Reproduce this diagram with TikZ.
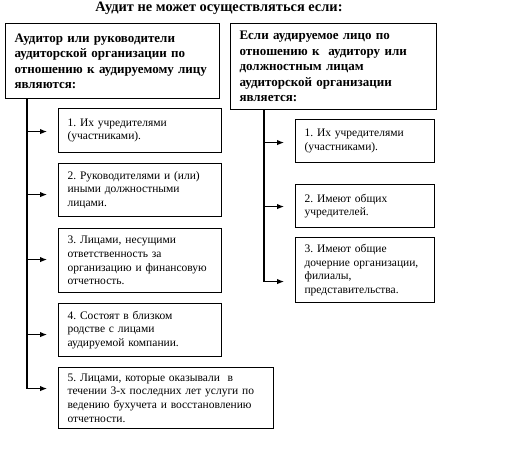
\documentclass[tikz,border=0pt]{standalone}
\usepackage{fontspec}
\setmainfont{Liberation Serif}
\usetikzlibrary{arrows.meta}
\frenchspacing
\tikzset{
  head/.style={draw,anchor=north west,align=left,inner xsep=9pt,
    font=\fontsize{13}{15.5}\selectfont\bfseries},
  item/.style={draw,anchor=north west,align=left,inner xsep=9pt,
    font=\fontsize{11.5}{13.6}\selectfont},
  arrow/.style={-{Latex[length=7pt,width=5.5pt]},shorten >=11pt},
}
\begin{document}
\begin{tikzpicture}[x=1pt,y=-1pt,line width=1.1pt]
  \useasboundingbox (0,0) rectangle (512,448);
  \node[font=\fontsize{14.4}{16}\selectfont\bfseries] (title) at (219,8)
    {Аудит не может осуществляться если:};
  % Header boxes
  \node[head,text width=196pt,minimum height=75pt] (hleft) at (5,23)
    {Аудитор или руководители\\ аудиторской организации по\\ отношению к аудируемому лицу\\ являются:};
  \node[head,text width=188pt,minimum height=86pt] (hright) at (230,23)
    {Если аудируемое лицо по\\ отношению к~ аудитору или\\ должностным лицам\\ аудиторской организации\\ является:};
  % Left column
  \node[item,text width=145pt,minimum height=44pt] (l1) at (58,108)
    {1. Их учредителями\\ (участниками).};
  \node[item,text width=145pt,minimum height=53pt] (l2) at (58,163)
    {2. Руководителями и (или)\\ иными должностными\\ лицами.};
  \node[item,text width=145pt,minimum height=64pt] (l3) at (58,228)
    {3. Лицами, несущими\\ ответственность за\\ организацию и финансовую\\ отчетность.};
  \node[item,text width=145pt,minimum height=53pt] (l4) at (58,303)
    {4. Состоят в близком\\ родстве с лицами\\ аудируемой компании.};
  \node[item,text width=197pt,minimum height=61pt] (l5) at (58,367)
    {5. Лицами, которые оказывали~ в\\ течении 3-х последних лет услуги по\\ ведению бухучета и восстановлению\\ отчетности.};
  % Right column
  \node[item,text width=121pt,minimum height=43pt] (r1) at (295,119)
    {1. Их учредителями\\ (участниками).};
  \node[item,text width=121pt,minimum height=43pt] (r2) at (295,184)
    {2. Имеют общих\\ учредителей.};
  \node[item,text width=121pt,minimum height=65pt] (r3) at (295,237)
    {3. Имеют общие\\ дочерние организации,\\ филиалы,\\ представительства.};
  % Trunks and arrows
  \coordinate (ltop) at ([xshift=22pt]hleft.south west);
  \coordinate (rtop) at ([xshift=34pt]hright.south west);
  \foreach \n/\dy in {l1/-1,l2/-4.5,l3/1,l4/-4.5,l5/9.5,r1/-1.5,r2/-0.5,r3/-11.5}
    \coordinate (\n-in) at ([yshift=\dy pt]\n.west);
  \draw (ltop) -- (ltop |- l5-in);
  \draw (rtop) -- (rtop |- r3-in);
  \foreach \n in {l1,l2,l3,l4,l5}
    \draw[arrow] (ltop |- \n-in) -- (\n-in);
  \foreach \n in {r1,r2,r3}
    \draw[arrow] (rtop |- \n-in) -- (\n-in);
\end{tikzpicture}
\end{document}
